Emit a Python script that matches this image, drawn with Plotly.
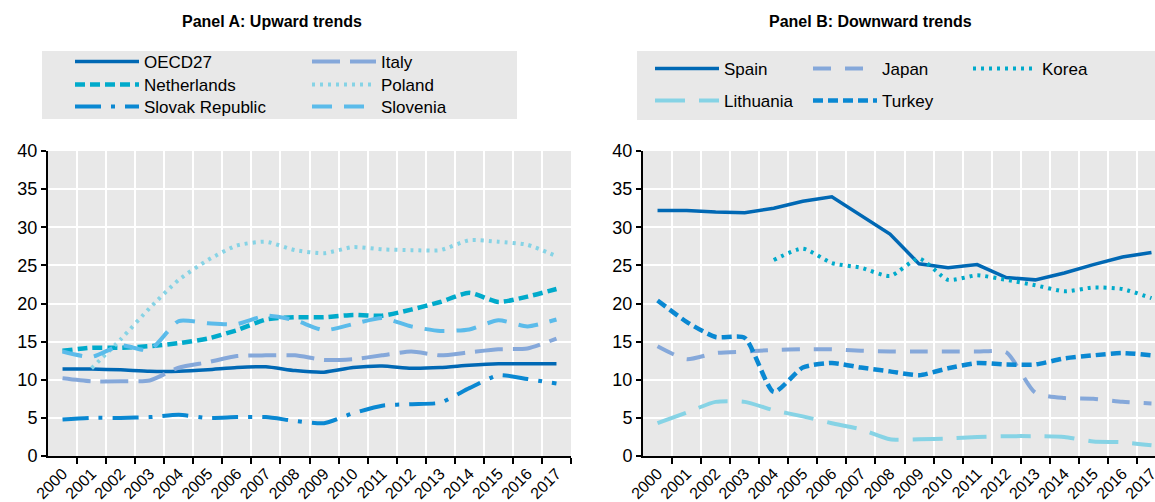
import plotly.graph_objects as go

years = [str(y) for y in range(2000, 2018)]

# Panel A: upward trends
oecd27 = [11.4, 11.4, 11.3, 11.1, 11.1, 11.3, 11.6, 11.7, 11.2, 11.0, 11.6, 11.8, 11.5, 11.6, 11.9, 12.1, 12.1, 12.1]
italy = [10.2, 9.8, 9.8, 9.9, 11.6, 12.3, 13.1, 13.2, 13.2, 12.6, 12.7, 13.2, 13.7, 13.2, 13.6, 14.0, 14.1, 15.4]
netherlands = [13.8, 14.2, 14.2, 14.4, 14.8, 15.4, 16.5, 17.9, 18.2, 18.2, 18.5, 18.4, 19.2, 20.2, 21.4, 20.2, 20.9, 21.9]
poland = [None, 11.5, 15.3, 19.4, 23.1, 25.7, 27.6, 28.1, 27.0, 26.6, 27.4, 27.1, 27.0, 27.0, 28.3, 28.1, 27.7, 26.2]
slovak = [4.8, 5.0, 5.0, 5.1, 5.4, 5.0, 5.1, 5.1, 4.6, 4.3, 5.6, 6.6, 6.8, 7.0, 8.9, 10.6, 10.1, 9.5]
slovenia = [13.7, 13.0, 14.5, 13.9, 17.7, 17.4, 17.3, 18.4, 17.8, 16.5, 17.3, 18.1, 17.0, 16.4, 16.6, 17.8, 17.0, 17.9]

# Panel B: downward trends
spain = [32.2, 32.2, 32.0, 31.9, 32.5, 33.4, 34.0, 31.6, 29.1, 25.2, 24.7, 25.1, 23.4, 23.1, 24.0, 25.1, 26.1, 26.7]
japan = [14.4, 12.7, 13.5, 13.7, 13.9, 14.0, 14.0, 13.8, 13.7, 13.7, 13.7, 13.7, 13.6, 8.3, 7.6, 7.5, 7.1, 6.9]
korea = [None, None, None, None, 25.7, 27.2, 25.3, 24.7, 23.6, 25.9, 23.1, 23.7, 23.1, 22.4, 21.6, 22.1, 21.9, 20.7]
lithuania = [4.3, 5.7, 7.1, 7.1, 6.0, 5.2, 4.3, 3.5, 2.2, 2.2, 2.3, 2.5, 2.6, 2.6, 2.5, 1.9, 1.8, 1.4]
turkey = [20.4, 17.6, 15.6, 15.5, 8.4, 11.6, 12.2, 11.6, 11.1, 10.6, 11.5, 12.2, 12.0, 12.0, 12.8, 13.2, 13.5, 13.2]

y_ticks = [0, 5, 10, 15, 20, 25, 30, 35, 40]

W, H = 1155, 502
FONT = "Liberation Sans, Arial, sans-serif"
BG = "#E8E8E8"

DARK = "#0068B4"
MED = "#0A88D2"
TEAL = "#00AACB"
LCYAN = "#86D3E5"
PERI = "#85A8DA"
LBLUE = "#5BBBEA"

xi = list(range(len(years)))


def px_x(v):
    return v / W


def px_y(v):
    return 1 - v / H


fig = go.Figure()
legends = {}
LEG_OFF = 5  # offset between legend x and line-sample start (px)


def add(name, vals, color, dash, width, xa, ya, lx, ly, shape="spline"):
    key = "legend" if not legends else "legend%d" % (len(legends) + 1)
    legends[key] = dict(
        x=px_x(lx - LEG_OFF), y=px_y(ly), xanchor="left", yanchor="middle",
        bgcolor="rgba(0,0,0,0)", borderwidth=0,
        font=dict(family=FONT, size=17, color="black"),
        itemwidth=64, itemclick=False, itemdoubleclick=False,
    )
    fig.add_trace(go.Scatter(
        x=xi, y=vals, name=name, mode="lines",
        line=dict(color=color, dash=dash, width=width, shape=shape, smoothing=0.6),
        xaxis=xa, yaxis=ya, legend=key, connectgaps=False, hoverinfo="skip"))


# Panel A (legend sample start x, row centre y)
add("OECD27", oecd27, DARK, "solid", 3.5, "x", "y", 75, 62)
add("Netherlands", netherlands, TEAL, "10px,5px", 4.5, "x", "y", 75, 85)
add("Slovak Republic", slovak, MED, "26px,10px,4px,10px", 4, "x", "y", 75, 107)
add("Italy", italy, PERI, "28px,10px", 4, "x", "y", 312, 62)
add("Poland", poland, LCYAN, "3px,5px", 4, "x", "y", 312, 85)
add("Slovenia", slovenia, LBLUE, "20px,12px", 4, "x", "y", 312, 107)

# Panel B
add("Spain", spain, DARK, "solid", 3.5, "x2", "y2", 655, 69, shape="linear")
add("Lithuania", lithuania, LCYAN, "30px,14px", 4, "x2", "y2", 655, 101)
add("Japan", japan, PERI, "18px,14px", 4, "x2", "y2", 813, 69)
add("Turkey", turkey, MED, "10px,5px", 4.5, "x2", "y2", 813, 101)
add("Korea", korea, TEAL, "3px,5px", 4, "x2", "y2", 973, 69)

ydom = [px_y(456), px_y(151)]

xcommon = dict(
    tickmode="array", tickvals=xi, ticktext=years, tickangle=-45,
    ticks="", showgrid=False, zeroline=False, automargin=False,
    ticklabeloverflow="allow",
    showline=True, linecolor="black", linewidth=2,
    tickfont=dict(family=FONT, size=16, color="black"),
    minor=dict(tickmode="array", tickvals=[i + 0.5 for i in xi],
               showgrid=True, gridcolor="white", gridwidth=2,
               ticks="outside", ticklen=6, tickwidth=2, tickcolor="black"),
    fixedrange=True,
)
ycommon = dict(
    range=[0, 40], tickmode="array", tickvals=y_ticks, domain=ydom,
    showgrid=True, gridcolor="white", gridwidth=2, zeroline=False, automargin=False,
    showline=True, linecolor="black", linewidth=2,
    ticks="outside", ticklen=5, tickwidth=2, tickcolor="black",
    tickfont=dict(family=FONT, size=18, color="black"),
    fixedrange=True,
)

cw = (571 - 48) / 18.0
fig.update_layout(
    xaxis=dict(xcommon, domain=[px_x(48), px_x(571)], range=[-0.5, 17.5], anchor="y"),
    yaxis=dict(ycommon, anchor="x"),
    xaxis2=dict(xcommon, domain=[px_x(643), 1.0], range=[-0.5, -0.5 + (W - 643) / cw], anchor="y2"),
    yaxis2=dict(ycommon, anchor="x2"),
)
fig.update_layout(**legends)

fig.add_shape(type="rect", xref="paper", yref="paper",
              x0=px_x(42), x1=px_x(517), y0=px_y(119), y1=px_y(51),
              fillcolor=BG, line=dict(width=0), layer="below")
fig.add_shape(type="rect", xref="paper", yref="paper",
              x0=px_x(637), x1=1.0, y0=px_y(120), y1=px_y(51),
              fillcolor=BG, line=dict(width=0), layer="below")

fig.add_annotation(text="<b>Panel A: Upward trends</b>", xref="paper", yref="paper",
                   x=px_x(272), y=px_y(22), showarrow=False, xanchor="center", yanchor="middle",
                   font=dict(family=FONT, size=16, color="black"))
fig.add_annotation(text="<b>Panel B: Downward trends</b>", xref="paper", yref="paper",
                   x=px_x(870), y=px_y(22), showarrow=False, xanchor="center", yanchor="middle",
                   font=dict(family=FONT, size=16, color="black"))

fig.update_layout(
    width=W, height=H, autosize=False,
    margin=dict(l=0, r=0, t=0, b=0, pad=0),
    paper_bgcolor="white", plot_bgcolor=BG,
    font=dict(family=FONT, color="black"),
    showlegend=True, hovermode=False,
)

fig.write_html(
    "out.html",
    config={"displayModeBar": False, "staticPlot": True},
    post_script="document.body.style.margin='0';document.body.style.overflow='hidden';",
)
